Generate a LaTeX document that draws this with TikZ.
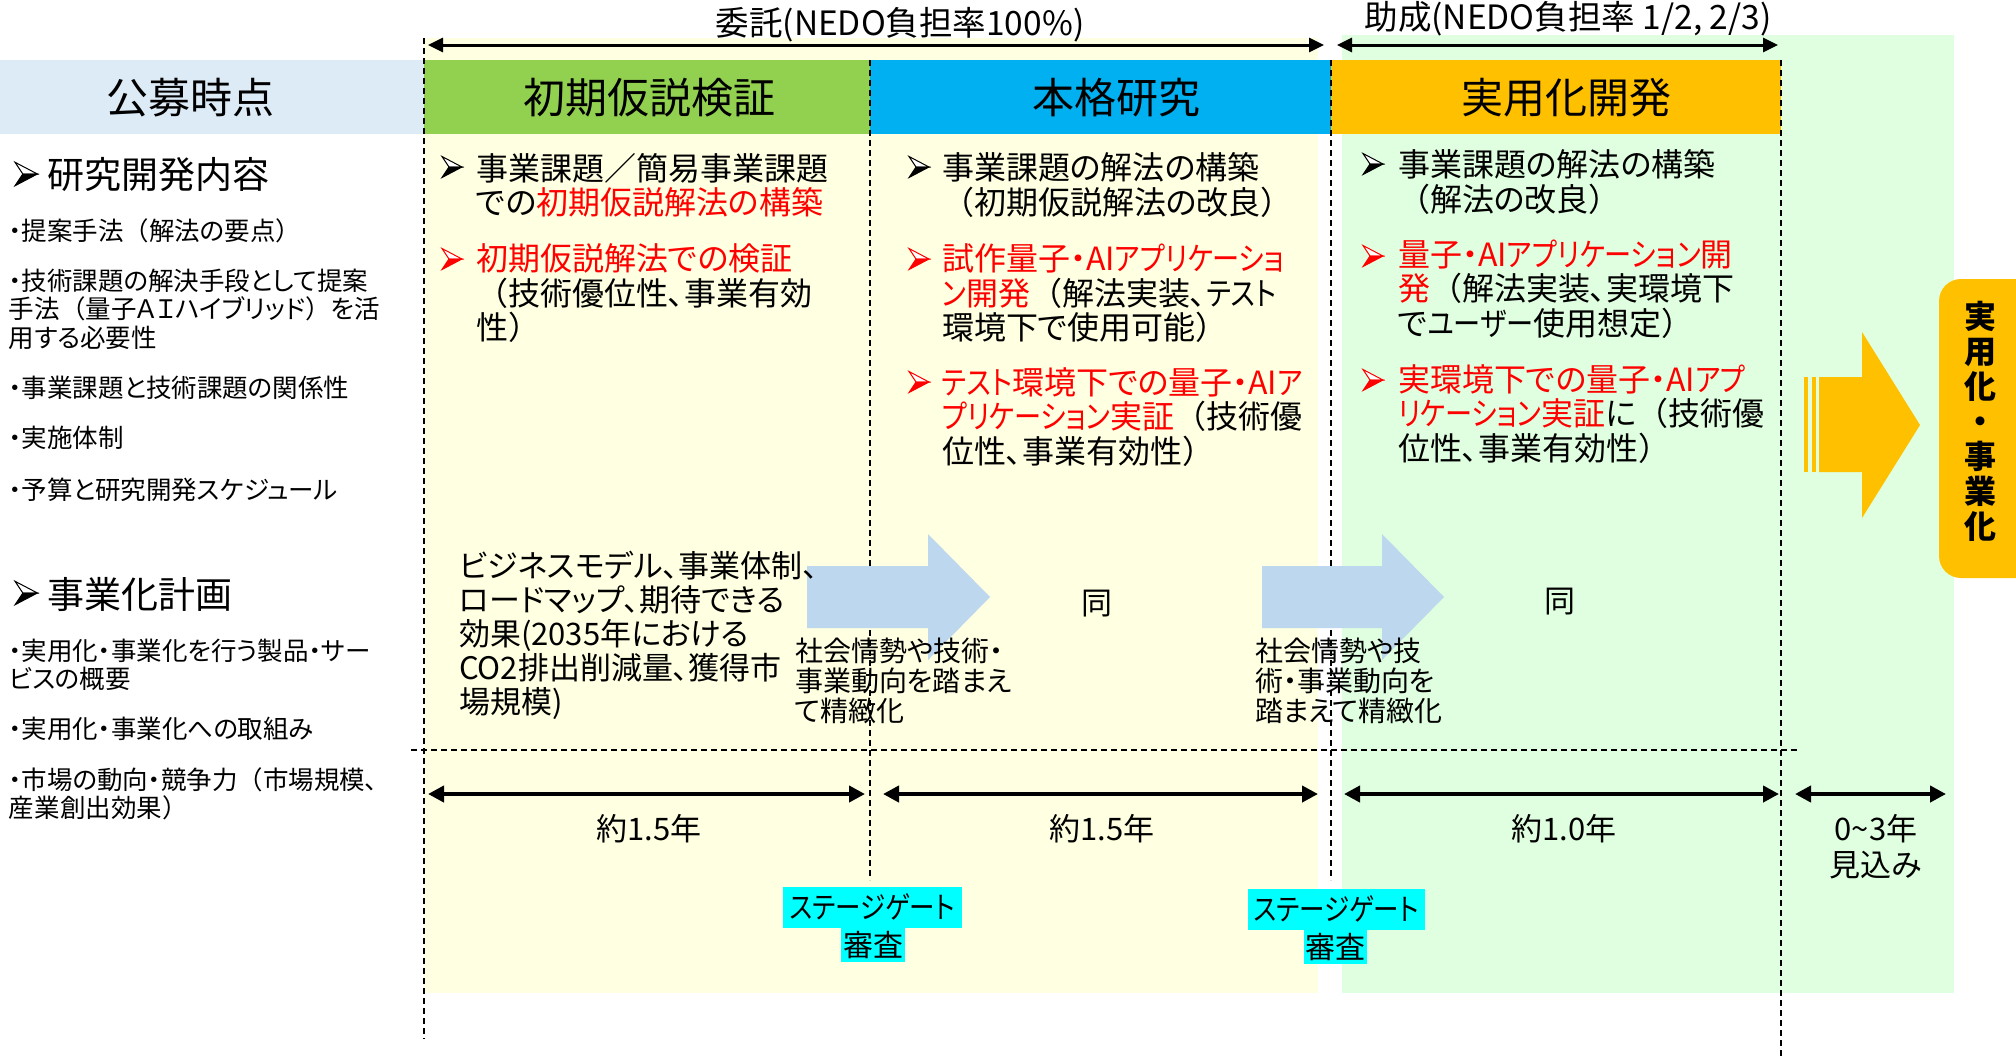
\documentclass[tikz,border=0pt]{standalone}
\usepackage{fontspec}
\setmainfont{Noto Sans CJK JP}[RawFeature=+palt]
\newfontfamily\fwfont{Noto Sans CJK JP}
\newfontfamily\ktfont{Noto Sans CJK JP}[RawFeature=+palt, FakeStretch=0.85]
\usetikzlibrary{arrows.meta}
\definecolor{hdrleft}{RGB}{221,235,247}
\definecolor{hdrgreen}{RGB}{146,208,80}
\definecolor{hdrblue}{RGB}{0,176,240}
\definecolor{hdrorange}{RGB}{255,192,0}
\definecolor{bgyellow}{RGB}{255,255,225}
\definecolor{bggreen}{RGB}{224,255,224}
\definecolor{arrblue}{RGB}{189,215,238}
\definecolor{sgcyan}{RGB}{0,255,255}
\definecolor{txtred}{RGB}{255,0,0}
\newcommand\jlp{{\fwfont （}}
\newcommand\jrp{{\fwfont ）}}
\newcommand\kt[1]{{\ktfont #1}}
\newcommand\fsz[2]{\fontsize{#1}{#2}\selectfont}
\newcommand\rtx[1]{\textcolor{txtred}{#1}}
\tikzset{
  txt/.style={inner sep=0pt, outer sep=0pt, anchor=west, align=left},
  hdrtxt/.style={inner sep=0pt, font=\fsz{21pt}{25pt}},
  body/.style={txt, font=\fsz{16pt}{17.25pt}},
  small/.style={txt, font=\fsz{12.75pt}{14.25pt}},
  plan/.style={txt, font=\fsz{15.5pt}{17pt}},
  note/.style={txt, font=\fsz{14pt}{15pt}},
  sect/.style={txt, font=\fsz{18.5pt}{20pt}},
  dashln/.style={black, line width=0.7pt, dash pattern=on 3pt off 2pt},
  toparr/.style={line width=1.5pt, {Triangle[length=7.5pt,width=7pt]}-{Triangle[length=7.5pt,width=7pt]}},
  durarr/.style={line width=2pt, {Triangle[length=8pt,width=8pt]}-{Triangle[length=8pt,width=8pt]}},
  sgbox/.style={fill=sgcyan, inner sep=0pt, font=\fsz{15pt}{17pt}},
  lbl/.style={inner sep=0pt, font=\fsz{15.5pt}{18pt}, align=center},
  toplbl/.style={inner sep=0pt, font=\fsz{16.75pt}{18pt}},
  pics/abul/.style={code={
    \draw[line width=0.5pt, line join=miter, fill=white] (0,-10.5) -- (20,0) -- (7,0) -- cycle;
    \filldraw[line width=0.5pt, line join=miter] (7,0) -- (20,0) -- (0,10.5) -- cycle;
  }},
}
\begin{document}
\begin{tikzpicture}[x=0.5pt,y=-0.5pt]
\useasboundingbox (0,0) rectangle (2016,1056);
\fill[white] (0,0) rectangle (2016,1056);
% backgrounds
\fill[bgyellow] (424,38) rectangle (1318,993);
\fill[bggreen] (1342,35) rectangle (1954,993);
% header bars
\fill[hdrleft] (0,60) rectangle (424,134);
\fill[hdrgreen] (424,60) rectangle (870,134);
\fill[hdrblue] (870,60) rectangle (1331,134);
\fill[hdrorange] (1331,60) rectangle (1781,134);
% dashed lines
\draw[dashln] (424,38) -- (424,1039);
\draw[dashln] (870,60) -- (870,880);
\draw[dashln] (1331,60) -- (1331,880);
\draw[dashln] (1781,60) -- (1781,1056);
\draw[dashln] (411,750) -- (1798,750);
% blue block arrows
\fill[arrblue] (807,566) -- (928,566) -- (928,534) -- (990,597) -- (928,660) -- (928,628) -- (807,628) -- cycle;
\fill[arrblue] (1262,566) -- (1382,566) -- (1382,534) -- (1444,597) -- (1382,660) -- (1382,628) -- (1262,628) -- cycle;
% orange striped arrow
\fill[hdrorange] (1804,377) rectangle (1808,472);
\fill[hdrorange] (1812,377) rectangle (1816,472);
\fill[hdrorange] (1819,377) -- (1862,377) -- (1862,332) -- (1920,425) -- (1862,518) -- (1862,472) -- (1819,472) -- cycle;
% orange rounded box
\begin{scope}
\clip (0,0) rectangle (2016,1056);
\fill[hdrorange, rounded corners=11pt] (1939,279) rectangle (2050,578);
\end{scope}
\node[inner sep=0pt, align=center, font=\bfseries\fsz{16pt}{17.5pt}] (jyo) at (1980,421) {実\\用\\化\\・\\事\\業\\化};
% header texts
\node[hdrtxt] (hA) at (190,98) {公募時点};
\node[hdrtxt] (hB) at (649,98) {初期仮説検証};
\node[hdrtxt] (hC) at (1116,98) {本格研究};
\node[hdrtxt] (hD) at (1566,98) {実用化開発};
% top labels and arrows
\node[toplbl] (wlab) at (900,25) {委託(NEDO負担率100\%)};
\node[toplbl] (jlab) at (1568,19) {助成(NEDO負担率 1/2, 2/3)};
\coordinate (wL) at (428,45);
\coordinate (wR) at (1324,45);
\coordinate (jL) at (1337,45);
\coordinate (jR) at (1778,45);
\draw[toparr] (wL) -- (wR);
\draw[toparr] (jL) -- (jR);
% left column
\pic[scale=1.12] at (15,174) {abul};
\node[sect] (tL1) at (47,175) {研究開発内容};
\node[small] (s1) at (9,231) {・提案手法\jlp 解法の要点\jrp};
\node[small] (s2) at (9,309) {・技術課題の解決手段として提案\\手法\jlp 量子ＡＩハイブリッド\jrp を活\\用する必要性};
\node[small] (s3) at (9,388) {・事業課題と技術課題の関係性};
\node[small] (s4) at (9,438) {・実施体制};
\node[small] (s5) at (9,490) {・予算と研究開発スケジュール};
\pic[scale=1.12] at (15,593) {abul};
\node[sect] (tL2) at (47,594) {事業化計画};
\node[small] (s6) at (9,665) {・実用化・事業化を行う製品・サー\\ビスの概要};
\node[small] (s7) at (9,729) {・実用化・事業化への取組み};
\node[small] (s8) at (9,794) {・市場の動向・競争力\jlp 市場規模、\\産業創出効果\jrp};
% column 1
\pic at (442,167) {abul};
\node[body] (c1a) at (476,185.5) {事業課題／簡易事業課題\\での\rtx{初期仮説解法の構築}};
\pic[color=txtred] at (442,259) {abul};
\node[body] (c1b) at (476,293.5) {\rtx{初期仮説解法での検証}\\\jlp 技術優位性、事業有効\\性\jrp};
% column 2
\pic at (909,167) {abul};
\node[body] (c2a) at (942,185) {事業課題の解法の構築\\\jlp 初期仮説解法の改良\jrp};
\pic[color=txtred] at (909,259) {abul};
\node[body] (c2b) at (942,293.5) {\rtx{試作量子・AI\kt{アプリケーショ}}\\\rtx{\kt{ン}開発}\jlp 解法実装、\kt{テスト}\\環境下で使用可能\jrp};
\pic[color=txtred] at (909,382) {abul};
\node[body] (c2c) at (942,417) {\rtx{\kt{テスト}環境下での量子・AI\kt{ア}}\\\rtx{\kt{プリケーション}実証}\jlp 技術優\\位性、事業有効性\jrp};
% column 3
\pic at (1363,164) {abul};
\node[body] (c3a) at (1398,182) {事業課題の解法の構築\\\jlp 解法の改良\jrp};
\pic[color=txtred] at (1363,256) {abul};
\node[body] (c3b) at (1398,289) {\rtx{量子・AI\kt{アプリケーション}開}\\\rtx{発}\jlp 解法実装、実環境下\\で\kt{ユーザー}使用想定\jrp};
\pic[color=txtred] at (1363,380) {abul};
\node[body] (c3c) at (1398,414) {\rtx{実環境下での量子・AI\kt{アプ}}\\\rtx{\kt{リケーション}実証}に\jlp 技術優\\位性、事業有効性\jrp};
% business plan
\node[plan] (p1) at (459,635) {ビジネスモデル、事業体制、\\ロードマップ、期待できる\\効果(2035年における\\CO2排出削減量、獲得市\\場規模)};
\node[lbl] (same1) at (1097,604) {同};
\node[lbl] (same2) at (1560,602) {同};
\node[note] (n1) at (795,681) {社会情勢や技術・\\事業動向を踏まえ\\て精緻化};
\node[note] (n2) at (1255,681) {社会情勢や技\\術・事業動向を\\踏まえて精緻化};
% durations
\coordinate (d1L) at (428,794);
\coordinate (d1R) at (865,794);
\coordinate (d2L) at (883,794);
\coordinate (d2R) at (1318,794);
\coordinate (d3L) at (1344,794);
\coordinate (d3R) at (1779,794);
\coordinate (d4L) at (1795,794);
\coordinate (d4R) at (1946,794);
\draw[durarr] (d1L) -- (d1R);
\draw[durarr] (d2L) -- (d2R);
\draw[durarr] (d3L) -- (d3R);
\draw[durarr] (d4L) -- (d4R);
\node[lbl] (y1) at (649,829) {約1.5年};
\node[lbl] (y2) at (1102,829) {約1.5年};
\node[lbl] (y3) at (1564,829) {約1.0年};
\node[lbl] (y4) at (1876,847) {0\textasciitilde 3年\\見込み};
% stage gates
\node[sgbox, minimum width=89.5pt, minimum height=20.5pt] (sg1a) at (872,907) {\kt{ステージゲート}};
\node[sgbox, minimum width=32pt, minimum height=17pt] (sg1b) at (873,945) {審査};
\node[sgbox, minimum width=88.5pt, minimum height=20.5pt] (sg2a) at (1336,909) {\kt{ステージゲート}};
\node[sgbox, minimum width=31.5pt, minimum height=17pt] (sg2b) at (1335,947) {審査};
\end{tikzpicture}
\end{document}
